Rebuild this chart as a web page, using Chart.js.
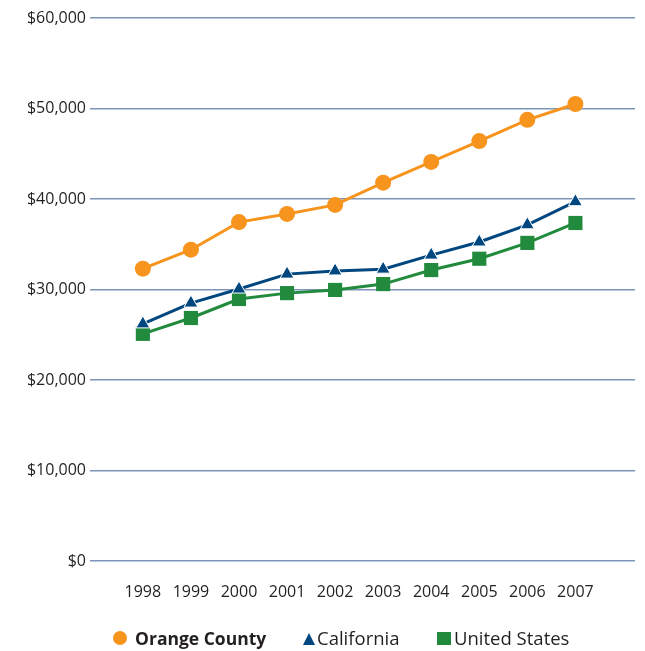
<!DOCTYPE html>
<html>
<head>
<meta charset="utf-8">
<script src="https://cdn.jsdelivr.net/npm/chart.js@4"></script>
<style>
  html, body { margin: 0; padding: 0; background: #fff; }
  #wrap { position: relative; width: 645px; height: 651px; }
  #legend {
    position: absolute; left: 0; top: 626px; width: 645px; height: 24px;
    font-family: "Open Sans", sans-serif; font-size: 18.5px; color: #231f20;
  }
  #legend span { position: absolute; top: 0; line-height: 24px; white-space: nowrap; }
  #legend .bold { font-weight: bold; font-size: 17.5px; }
  .dot { width: 14px; height: 14px; border-radius: 50%; background: #f7941d; top: 5px !important; }
  .tri { width: 0; height: 0; border-left: 6px solid transparent; border-right: 6px solid transparent;
         border-bottom: 12px solid #00467f; top: 7px !important; }
  .sq { width: 14px; height: 13px; background: #218a3c; top: 6px !important; }
</style>
</head>
<body>
<div id="wrap">
  <canvas id="myChart" width="645" height="651"></canvas>
  <div id="legend">
    <span class="dot" style="left:113px"></span>
    <span class="bold" style="left:135px">Orange County</span>
    <span class="tri" style="left:303px"></span>
    <span style="left:317px">California</span>
    <span class="sq" style="left:437px"></span>
    <span style="left:454px">United States</span>
  </div>
</div>
<script>
// per capita income, 1998-2007
const years = [1998, 1999, 2000, 2001, 2002, 2003, 2004, 2005, 2006, 2007];
const orangeCounty = [32300, 34400, 37450, 38350, 39350, 41800, 44100, 46400, 48750, 50500];
const california = [26200, 28500, 30050, 31700, 32050, 32250, 33800, 35250, 37150, 39700];
const unitedStates = [25100, 26850, 28950, 29600, 29950, 30600, 32150, 33400, 35150, 37350];
const yTicks = [0, 10000, 20000, 30000, 40000, 50000, 60000];

const pts = (vals) => years.map((y, i) => ({ x: y, y: vals[i] }));

const ctx = document.getElementById('myChart');
const font = { family: '"Open Sans", sans-serif', size: 16 };

const chart = new Chart(ctx, {
  type: 'line',
  data: {
    datasets: [
      {
        label: 'Orange County',
        data: pts(orangeCounty),
        borderColor: '#f7941d',
        backgroundColor: '#f7941d',
        borderWidth: 3,
        pointStyle: 'circle',
        pointRadius: 8,
        pointBorderWidth: 0
      },
      {
        label: 'California',
        data: pts(california),
        borderColor: '#00467f',
        backgroundColor: '#00467f',
        borderWidth: 3,
        pointStyle: 'triangle',
        pointRadius: 8,
        pointBorderColor: '#ffffff',
        pointBorderWidth: 1
      },
      {
        label: 'United States',
        data: pts(unitedStates),
        borderColor: '#218a3c',
        backgroundColor: '#218a3c',
        borderWidth: 3,
        pointStyle: 'rect',
        pointRadius: 10,
        pointBorderWidth: 0
      }
    ]
  },
  options: {
    responsive: false,
    animation: false,
    layout: { padding: { top: 18, right: 6, left: 0, bottom: 0 } },
    plugins: { legend: { display: false }, tooltip: { enabled: false } },
    scales: {
      x: {
        type: 'linear',
        min: 1996.9,
        max: 2008.24,
        afterBuildTicks: (axis) => { axis.ticks = years.map(v => ({ value: v })); },
        afterFit: (axis) => { axis.height = 90; },
        grid: { display: false, drawTicks: false },
        border: { display: false },
        ticks: {
          autoSkip: false,
          maxRotation: 0,
          padding: 22,
          color: '#231f20',
          font: font,
          callback: (v) => String(v)
        }
      },
      y: {
        min: 0,
        max: 60000,
        afterBuildTicks: (axis) => { axis.ticks = yTicks.map(v => ({ value: v })); },
        afterFit: (axis) => { axis.width = 90; },
        grid: { color: '#7d96b8', lineWidth: 1.5, drawTicks: false },
        border: { display: false },
        ticks: {
          padding: 4,
          color: '#231f20',
          font: font,
          callback: (v) => '$' + v.toLocaleString('en-US')
        }
      }
    }
  }
});
</script>
</body>
</html>
